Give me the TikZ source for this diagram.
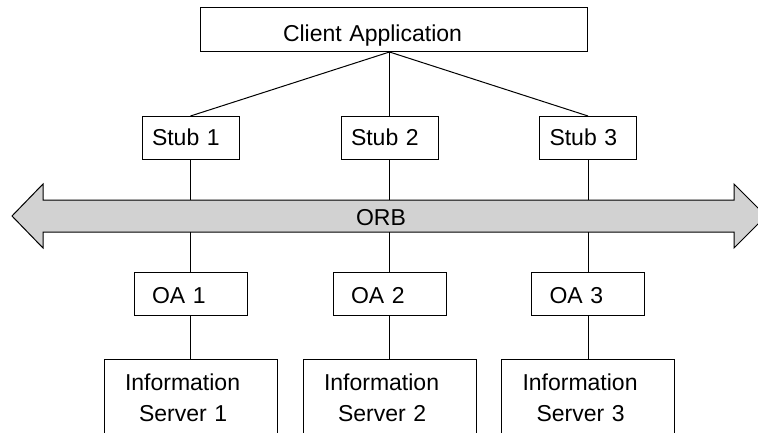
\documentclass[tikz,border=0pt]{standalone}
\usepackage{fontspec}
\setmainfont{Liberation Sans}
\tikzset{
    box/.style={draw,line width=1pt,inner ysep=0pt,align=left,font=\fontsize{23}{31}\selectfont},
    client/.style={box,text width=221pt,inner xsep=83pt,text height=33.7pt,text depth=10.3pt},
    stub/.style={box,text width=77pt,inner xsep=10pt,text height=29pt,text depth=14pt},
    adapter/.style={box,text width=77pt,inner xsep=18pt,text height=30.7pt,text depth=12.3pt},
    server/.style={box,text width=131pt,inner xsep=21pt,text height=31pt,text depth=60pt},
    link/.style={line width=1pt}
}
\begin{document}
\begin{tikzpicture}[x=1pt,y=-1pt]
                \useasboundingbox (0,0) rectangle (758,433);
                \clip (0,0) rectangle (758,433);
                \node[client,anchor=north] (client) at (393.5,7) {Client Application};
                \node[stub,anchor=north] (stub1) at (190.5,116) {Stub 1};
                \node[stub,anchor=north] (stub2) at (389.5,116) {Stub 2};
                \node[stub,anchor=north] (stub3) at (588,116) {Stub 3};
                \draw[line width=1pt,fill=gray!35] (12,216) -- (43,184) -- (43,200) -- (734,200) -- (734,184) -- (766,216)
                    -- (734,248) -- (734,232) -- (43,232) -- (43,248) -- cycle;
                \node[anchor=base,font=\fontsize{23}{31}\selectfont] (orb) at (381,225.7) {ORB};
                \coordinate (orbtop) at (0,200);
                \coordinate (orbbot) at (0,232);
                \node[adapter,anchor=north] (oa1) at (190.5,272) {OA 1};
                \node[adapter,anchor=north] (oa2) at (389.5,272) {OA 2};
                \node[adapter,anchor=north] (oa3) at (588,272) {OA 3};
                \node[server,anchor=north] (server1) at (190.5,359) {Information\\\hspace*{14pt}Server 1};
                \node[server,anchor=north] (server2) at (389.5,359) {Information\\\hspace*{14pt}Server 2};
                \node[server,anchor=north] (server3) at (588,359) {Information\\\hspace*{14pt}Server 3};
                \coordinate (apex) at (stub2 |- client.south);
                \foreach \i in {1,2,3} {
                    \draw[link] (apex) -- (stub\i.north);
                    \draw[link] (stub\i.south) -- (stub\i.south |- orbtop);
                    \draw[link] (oa\i.north |- orbbot) -- (oa\i.north);
                    \draw[link] (oa\i.south) -- (server\i.north);
                }
            \end{tikzpicture}
\end{document}
